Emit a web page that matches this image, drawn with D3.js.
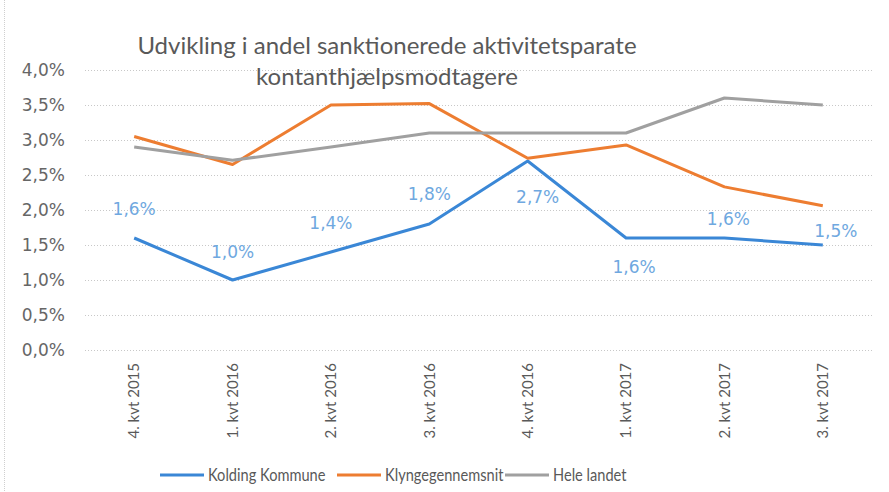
<!DOCTYPE html>
<html>
<head>
<meta charset="utf-8">
<script src="https://cdn.jsdelivr.net/npm/d3@7"></script>
<style>
  body { margin: 0; background: #fff; }
  text { font-family: Lato, "Open Sans", sans-serif; }
</style>
</head>
<body>
<div id="chart"></div>
<script>
var w = 889, h = 492;
var margin = {top: 70, right: 17, bottom: 142, left: 85};

// data
var quarters = ["4. kvt 2015", "1. kvt 2016", "2. kvt 2016", "3. kvt 2016",
                "4. kvt 2016", "1. kvt 2017", "2. kvt 2017", "3. kvt 2017"];
var kolding = [1.6, 1.0, 1.4, 1.8, 2.7, 1.6, 1.6, 1.5];
var klynge = [3.05, 2.65, 3.5, 3.52, 2.74, 2.93, 2.33, 2.06];
var landet = [2.9, 2.71, 2.9, 3.1, 3.1, 3.1, 3.6, 3.5];
var yTicks = [0, 0.5, 1, 1.5, 2, 2.5, 3, 3.5, 4];
var seriesNames = ["Kolding Kommune", "Klyngegennemsnit", "Hele landet"];
var colors = ["#3a87d6", "#ed7d31", "#a0a0a0"];

// label nudges (dx, dy) for the Kolding data labels, as placed in the original
var labelOffsets = [[0, -23], [0, -22], [0, -23], [0, -24], [10, 42], [8, 35], [4, -13], [13, -8]];

var series = [kolding, klynge, landet];

var svg = d3.select("#chart").append("svg")
  .attr("width", w)
  .attr("height", h);

// faint chart border on the left
svg.append("line")
  .attr("x1", 4.5).attr("x2", 4.5)
  .attr("y1", 0).attr("y2", h)
  .attr("stroke", "#cfcfcf")
  .attr("stroke-dasharray", "1,1");

var xScale = d3.scaleBand()
  .domain(quarters)
  .range([margin.left, w - margin.right]);

var yScale = d3.scaleLinear()
  .domain([0, 4])
  .range([h - margin.bottom, margin.top]);

// gridlines
svg.append("g")
  .selectAll("line")
  .data(yTicks)
  .enter()
  .append("line")
  .attr("x1", margin.left)
  .attr("x2", w - margin.right)
  .attr("y1", function(d) { return Math.round(yScale(d)) + 0.5; })
  .attr("y2", function(d) { return Math.round(yScale(d)) + 0.5; })
  .attr("stroke", "#c8c8c8")
  .attr("stroke-dasharray", "1,2");

// y axis labels
var yAxis = d3.axisLeft(yScale)
  .tickValues(yTicks)
  .tickSize(0)
  .tickPadding(20)
  .tickFormat(function(d) { return d.toFixed(1).replace(".", ",") + "%"; });

var gy = svg.append("g")
  .attr("transform", "translate(" + margin.left + ",0)")
  .call(yAxis);
gy.select(".domain").remove();
gy.selectAll("text")
  .attr("font-size", "17px")
  .attr("fill", "#666666")
  .style("font-family", "'DejaVu Sans', sans-serif");

// x axis labels, rotated
var xAxis = d3.axisBottom(xScale).tickSize(0).tickPadding(0);
var gx = svg.append("g")
  .attr("transform", "translate(0," + (h - margin.bottom) + ")")
  .call(xAxis);
gx.select(".domain").remove();
gx.selectAll("text")
  .attr("transform", "rotate(-90)")
  .attr("text-anchor", "end")
  .attr("x", -13)
  .attr("y", 0)
  .attr("dy", "0.35em")
  .attr("font-size", "15px")
  .attr("fill", "#595959")
  .style("font-family", "Lato, sans-serif");

// lines
var line = d3.line()
  .x(function(d, i) { return xScale(quarters[i]) + xScale.bandwidth() / 2; })
  .y(function(d) { return yScale(d); });

svg.selectAll("path.series")
  .data(series)
  .enter()
  .append("path")
  .attr("class", "series")
  .attr("d", line)
  .attr("fill", "none")
  .attr("stroke", function(d, i) { return colors[i]; })
  .attr("stroke-width", 3)
  .attr("stroke-linejoin", "round");

// data labels for Kolding
svg.selectAll("text.lbl")
  .data(kolding)
  .enter()
  .append("text")
  .attr("class", "lbl")
  .text(function(d) { return d.toFixed(1).replace(".", ",") + "%"; })
  .attr("x", function(d, i) { return xScale(quarters[i]) + xScale.bandwidth() / 2 + labelOffsets[i][0]; })
  .attr("y", function(d, i) { return yScale(d) + labelOffsets[i][1]; })
  .attr("text-anchor", "middle")
  .attr("font-size", "17px")
  .attr("fill", "#6fa8e0")
  .style("font-family", "'DejaVu Sans', sans-serif");

// title
var title = svg.append("text")
  .attr("text-anchor", "middle")
  .attr("font-size", "24px")
  .attr("fill", "#595959");
title.append("tspan").attr("x", 387).attr("y", 54).text("Udvikling i andel sanktionerede aktivitetsparate");
title.append("tspan").attr("x", 387).attr("y", 85).text("kontanthjælpsmodtagere");

// legend
var legendX = [160, 337, 505];
var leg = svg.selectAll("g.leg")
  .data(seriesNames)
  .enter()
  .append("g")
  .attr("class", "leg")
  .attr("transform", function(d, i) { return "translate(" + legendX[i] + ",475)"; });
leg.append("line")
  .attr("x1", 0).attr("x2", 44)
  .attr("stroke", function(d, i) { return colors[i]; })
  .attr("stroke-width", 3);
leg.append("text")
  .attr("transform", "translate(48,0) scale(0.86,1)")
  .attr("dy", "0.35em")
  .attr("font-size", "17px")
  .attr("fill", "#595959")
  .text(function(d) { return d; });
</script>
</body>
</html>
